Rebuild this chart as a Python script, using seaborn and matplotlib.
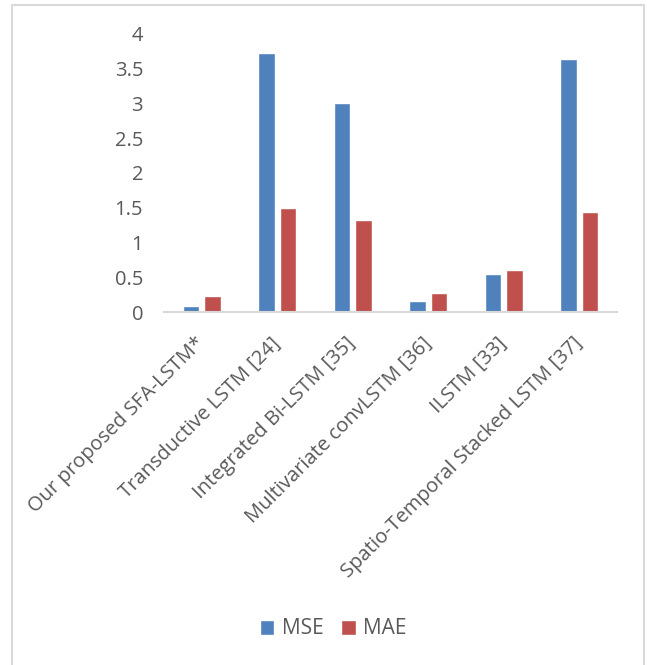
import matplotlib
matplotlib.use("Agg")
import matplotlib.pyplot as plt
from matplotlib.patches import Rectangle
from matplotlib.ticker import FuncFormatter, MultipleLocator
import seaborn as sns
import pandas as pd

# ---- data ----
models = [
    "Our proposed SFA-LSTM*",
    "Transductive LSTM [24]",
    "Integrated Bi-LSTM [35]",
    "Multivariate convLSTM [36]",
    "ILSTM [33]",
    "Spatio-Temporal Stacked LSTM [37]",
]
mse = [0.08, 3.72, 3.00, 0.16, 0.55, 3.63]
mae = [0.225, 1.49, 1.325, 0.27, 0.60, 1.43]
metrics = ["MSE", "MAE"]
colors = ["#4F81BD", "#C0504D"]

df = pd.DataFrame({
    "Model": models * 2,
    "Metric": [metrics[0]] * len(models) + [metrics[1]] * len(models),
    "Value": mse + mae,
})

sns.set_theme(style="white")
plt.rcParams["font.family"] = ["Open Sans", "DejaVu Sans"]
text_color = "#595959"
fs = 14.5

fig = plt.figure(figsize=(6.48, 6.65), dpi=100)
ax = fig.add_axes([164 / 648, 1 - 312 / 665, (617 - 164) / 648, (312 - 33.6) / 665])

sns.barplot(data=df, x="Model", y="Value", hue="Metric", palette=colors,
            width=0.565, gap=0.22, ax=ax, legend=True, saturation=1)

ax.set_ylim(0, 4)
ax.set_xlim(-0.5, len(models) - 0.5)
ax.yaxis.set_major_locator(MultipleLocator(0.5))
ax.yaxis.set_major_formatter(FuncFormatter(lambda v, p: f"{v:g}"))
ax.set_xlabel("")
ax.set_ylabel("")
for s in ["top", "right", "left"]:
    ax.spines[s].set_visible(False)
ax.spines["bottom"].set_color("#D9D9D9")
ax.spines["bottom"].set_linewidth(1.5)
ax.tick_params(axis="y", length=0, pad=15, labelsize=fs, labelcolor=text_color)
ax.tick_params(axis="x", length=0, pad=20.5, labelsize=fs, labelcolor=text_color)
ax.set_xticks(range(len(models)))
ax.set_xticklabels(models, rotation=45, ha="right", va="center", rotation_mode="anchor")
ax.grid(False)

# legend at the bottom
handles, labels = ax.get_legend_handles_labels()
ax.get_legend().remove()
fig.legend(handles, labels, loc="center", bbox_to_anchor=(333 / 648, 1 - 629 / 665),
           ncol=2, frameon=False, fontsize=15, labelcolor=text_color,
           handlelength=0.7, handleheight=0.7, handletextpad=0.35, columnspacing=0.85)

# chart border
fig.patches.append(Rectangle((12 / 648, -0.05), (644 - 12) / 648, 1.05 - 5 / 665,
                             transform=fig.transFigure, fill=False,
                             edgecolor="#D9D9D9", linewidth=1.5))

fig.savefig("out.png", dpi=100, facecolor="white")
